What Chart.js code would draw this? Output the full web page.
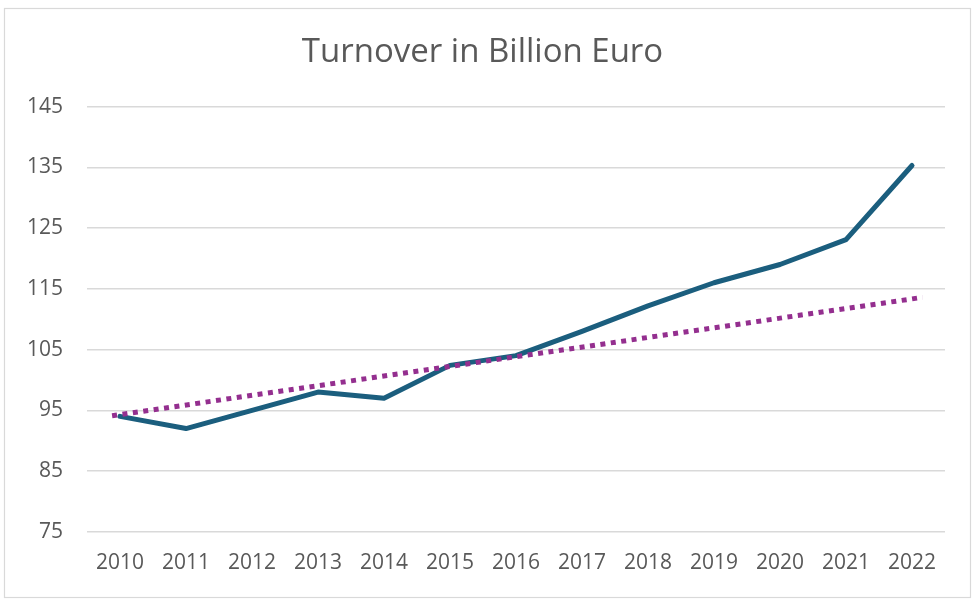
<!DOCTYPE html>
<html>
<head>
<meta charset="utf-8">
<script src="https://cdn.jsdelivr.net/npm/chart.js@4"></script>
<style>
html,body{margin:0;padding:0;background:#fff;}
#wrap{position:absolute;left:0;top:0;width:976px;height:607px;}
</style>
</head>
<body>
<div id="wrap"><canvas id="c" width="976" height="607"></canvas></div>
<script>
const years = [2010,2011,2012,2013,2014,2015,2016,2017,2018,2019,2020,2021,2022];
const turnover = [94,92,95,98,97,102.4,104,108,112.2,116,119,123.1,135.3];
const trendYears = [2009.88,2022.16];
const trendValues = [94.1,113.6];
const yTicks = [75,85,95,105,115,125,135,145];

const borderPlugin = {
  id:'border',
  beforeDraw(chart){
    const ctx = chart.ctx;
    ctx.save();
    ctx.fillStyle='#fff';
    ctx.fillRect(0,0,chart.width,chart.height);
    ctx.strokeStyle='#d9d9d9';
    ctx.lineWidth=1.2;
    ctx.strokeRect(4.5,8.5,966,589);
    ctx.restore();
  }
};

new Chart(document.getElementById('c'),{
  type:'line',
  data:{
    datasets:[
      {
        label:'Turnover',
        data: years.map((y,i)=>({x:y,y:turnover[i]})),
        borderColor:'#1B5E7E',
        borderWidth:5,
        pointRadius:0,
        tension:0,
        borderCapStyle:'round',
        borderJoinStyle:'round',
        order:2
      },
      {
        label:'Trend',
        data: trendYears.map((y,i)=>({x:y,y:trendValues[i]})),
        borderColor:'#942F8F',
        borderWidth:5,
        borderDash:[5,5.5],
        borderCapStyle:'butt',
        pointRadius:0,
        order:1
      }
    ]
  },
  options:{
    responsive:false,
    animation:false,
    devicePixelRatio:1,
    layout:{padding:{left:20,right:31,top:0,bottom:12}},
    plugins:{
      legend:{display:false},
      tooltip:{enabled:false},
      title:{
        display:true,
        text:'Turnover in Billion Euro',
        color:'#595959',
        font:{family:'Open Sans',size:33,weight:'normal'},
        padding:{top:33,bottom:34}
      }
    },
    scales:{
      x:{
        type:'linear',
        min:2009.5,
        max:2022.5,
        afterBuildTicks(axis){ axis.ticks = years.map(v=>({value:v})); },
        grid:{display:false,drawTicks:false},
        border:{display:false},
        ticks:{
          color:'#595959',
          font:{family:'Open Sans',size:21},
          padding:19,
          maxRotation:0,
          autoSkip:false,
          callback:v=>String(v)
        }
      },
      y:{
        min:75,
        max:145,
        afterBuildTicks(axis){ axis.ticks = yTicks.map(v=>({value:v})); },
        afterFit(scale){ scale.width = 67; },
        grid:{color:'#d9d9d9',lineWidth:1.5,drawTicks:false},
        border:{display:false},
        ticks:{
          color:'#595959',
          font:{family:'Open Sans',size:21},
          padding:24
        }
      }
    }
  },
  plugins:[borderPlugin]
});
</script>
</body>
</html>
